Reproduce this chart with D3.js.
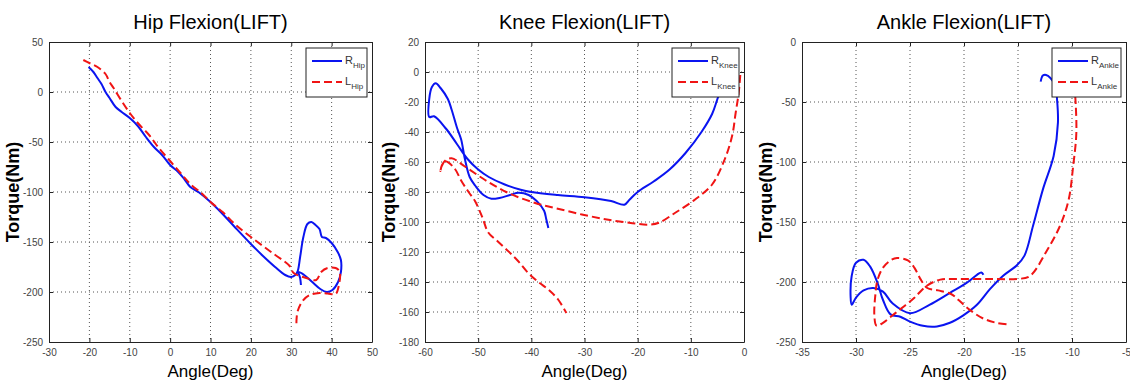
<!DOCTYPE html>
<meta charset="utf-8">
<script src="https://d3js.org/d3.v7.min.js"></script>
<style>
  body { margin: 0; background: #fff; }
  text { font-family: "Liberation Sans", Arial, sans-serif; }
</style>
<body>
<script>

// ---- data (angle in deg, torque in Nm) ----
var titles = ["Hip Flexion(LIFT)", "Knee Flexion(LIFT)", "Ankle Flexion(LIFT)"]
var joints = ["Hip", "Knee", "Ankle"]

var hipX = [-30, -20, -10, 0, 10, 20, 30, 40, 50]
var hipY = [50, 0, -50, -100, -150, -200, -250]
var kneeX = [-60, -50, -40, -30, -20, -10, 0]
var kneeY = [20, 0, -20, -40, -60, -80, -100, -120, -140, -160, -180]
var ankleX = [-35, -30, -25, -20, -15, -10, -5]
var ankleY = [0, -50, -100, -150, -200, -250]

var hipR = [[-20.2, 25], [-19, 20], [-18, 14], [-17, 8], [-16, 0], [-15, -6], [-13.5, -15], [-12, -20],
  [-10, -26], [-8, -34], [-6, -45], [-4, -55], [-2, -63], [0, -73], [2, -80], [3.5, -87], [5, -95],
  [7, -100], [10, -110], [13, -122], [16, -135], [20, -152], [23, -164], [26, -175], [28.5, -183],
  [30, -185], [31, -183], [31.6, -179], [32.2, -165], [33, -145], [34, -132], [35, -130], [36, -133],
  [37, -137], [37.6, -145], [38.6, -146], [40, -151], [41.5, -160], [42.3, -168], [42.3, -180],
  [41.6, -190], [40.2, -198], [38.8, -200], [37.2, -197], [35.2, -190], [33.2, -183], [31.8, -180],
  [32.2, -186], [32.4, -193]]
var hipL = [[-21.5, 32], [-20, 29], [-18, 25], [-16, 18], [-15, 10], [-14, 4], [-12, -9], [-10, -21],
  [-8, -31], [-5, -44], [-3, -55], [0, -69], [3, -83], [5, -92], [8, -102], [10, -110], [13, -120],
  [16, -132], [20, -145], [25, -160], [29.6, -174], [30.6, -181], [33.7, -186], [36.2, -188],
  [37.4, -180], [39, -176], [41, -176], [42, -180], [41.7, -195], [41, -202], [39, -201.5],
  [37, -201], [34.6, -203], [32.8, -209], [31.6, -219], [31.3, -228], [31.3, -234]]

var kneeR = [[-2.5, 5], [-4, -8], [-5, -18], [-6, -28], [-8, -40], [-11, -54], [-14, -65],
  [-17, -73], [-20, -80], [-21.5, -85], [-22.5, -88.5], [-25, -86], [-30, -83.5], [-35, -82],
  [-40, -80], [-42, -78.5], [-45, -75], [-48, -70], [-50, -65], [-52, -58], [-54, -48],
  [-56, -38], [-58.3, -29.5], [-59.2, -30], [-59.2, -18], [-58.7, -10], [-58, -7.5], [-57, -11],
  [-55.7, -18], [-55, -25], [-54, -37], [-53.2, -45], [-52.5, -58], [-51.6, -70], [-50.5, -76],
  [-49, -82], [-47.5, -84.5], [-46, -84], [-44, -82], [-42.4, -80.5], [-40.5, -82], [-39, -86],
  [-37.6, -92.5], [-37.2, -98], [-36.8, -104]]
var kneeL = [[-0.7, -2], [-1, -14], [-1.6, -28], [-2.2, -42], [-3.6, -58], [-6, -75], [-9.2, -85],
  [-13, -94], [-16, -100.5], [-18, -101.8], [-21, -100.8], [-25.5, -98.5], [-30.5, -95],
  [-35.5, -90.7], [-39.3, -87.3], [-44.3, -80.7], [-48.7, -72], [-52.5, -63], [-55, -57.5],
  [-56.2, -59], [-56.9, -63], [-57.1, -66], [-56.8, -62], [-56.2, -59.5], [-54.5, -64],
  [-53.1, -73], [-51.8, -80], [-50.6, -86], [-49.2, -97], [-48.1, -107], [-46.3, -113],
  [-44.3, -119.6], [-42.5, -126], [-40.6, -134], [-38.7, -140], [-36.8, -145], [-35, -151.5],
  [-33.4, -160.7]]

var ankleR = [[-12.9, -33], [-12.7, -28], [-12.4, -27.5], [-12, -30], [-11.5, -37], [-11.4, -46],
  [-11.3, -67], [-11.7, -95], [-12.7, -123], [-13.6, -153], [-14.4, -178], [-15.1, -186],
  [-16.4, -195], [-17.6, -206], [-18.8, -219], [-20.1, -228], [-21.3, -234], [-22.5, -237],
  [-23.8, -236.5], [-25, -233], [-25.9, -229], [-26.8, -227], [-27.5, -215], [-28, -201],
  [-28.7, -187], [-29.3, -181.5], [-30, -184], [-30.4, -195], [-30.5, -212], [-30.4, -219],
  [-30, -213], [-29.3, -207], [-28.4, -205], [-27.5, -208], [-26.6, -218], [-25, -226],
  [-23.2, -219], [-21.3, -209], [-19.8, -201], [-18.8, -194], [-18.4, -192], [-18.2, -194]]
var ankleL = [[-9.8, -35], [-9.7, -45], [-9.6, -76], [-9.9, -104], [-10.3, -131], [-11.1, -153],
  [-12.4, -175], [-13.9, -195], [-15.1, -197.5], [-17.6, -197.5], [-20.7, -197.5], [-22.2, -198],
  [-23.5, -203.5], [-24.7, -214], [-26.3, -225.5], [-27.5, -234], [-28.1, -236.4], [-28.3, -228],
  [-28.2, -210], [-28, -198], [-27.5, -188], [-26.8, -182], [-26.2, -180], [-25.2, -182],
  [-24.6, -188], [-24, -198], [-23.4, -205], [-22.4, -207], [-21.2, -210], [-20.5, -215],
  [-19.5, -223], [-18.2, -230.5], [-17, -234], [-15.8, -235.5]]

// ---- layout ----
var W = 1130, H = 386
var frames = [
  {x0: 49, x1: 372, legendW: 61},
  {x0: 425, x1: 744, legendW: 67},
  {x0: 802, x1: 1126, legendW: 69}
]
var plotTop = 42, plotBottom = 342

var panels = [
  {xt: hipX, yt: hipY, R: hipR, L: hipL},
  {xt: kneeX, yt: kneeY, R: kneeR, L: kneeL},
  {xt: ankleX, yt: ankleY, R: ankleR, L: ankleL}
]

var svg = d3.select("body").append("svg")
  .attr("width", W).attr("height", H)

var fmt = function(d) { return String(d) }

panels.forEach(function(p, i) {
  var f = frames[i]
  var x = d3.scaleLinear().domain(d3.extent(p.xt)).range([f.x0, f.x1])
  var y = d3.scaleLinear().domain(d3.extent(p.yt)).range([plotBottom, plotTop])
  var g = svg.append("g")
  var clipId = "clip" + i

  g.append("clipPath").attr("id", clipId).append("rect")
    .attr("x", f.x0).attr("y", plotTop).attr("width", f.x1 - f.x0).attr("height", plotBottom - plotTop)

  // grid
  g.selectAll(".vg").data(p.xt.slice(1, -1)).enter().append("line")
    .attr("x1", d => x(d)).attr("x2", d => x(d)).attr("y1", plotTop).attr("y2", plotBottom)
    .attr("stroke", "#555").attr("stroke-width", 1).attr("stroke-dasharray", "1,3")
  g.selectAll(".hg").data(p.yt.slice(1, -1)).enter().append("line")
    .attr("y1", d => y(d)).attr("y2", d => y(d)).attr("x1", f.x0).attr("x2", f.x1)
    .attr("stroke", "#555").attr("stroke-width", 1).attr("stroke-dasharray", "1,3")

  // axes with inward ticks on all four sides
  var tk = 4
  g.append("g").attr("transform", "translate(0," + plotBottom + ")")
    .call(d3.axisBottom(x).tickValues(p.xt).tickSizeInner(-tk).tickSizeOuter(0).tickPadding(7).tickFormat(fmt))
  g.append("g").attr("transform", "translate(0," + plotTop + ")")
    .call(d3.axisTop(x).tickValues(p.xt).tickSizeInner(-tk).tickSizeOuter(0).tickFormat(""))
  g.append("g").attr("transform", "translate(" + f.x0 + ",0)")
    .call(d3.axisLeft(y).tickValues(p.yt).tickSizeInner(-tk).tickSizeOuter(0).tickPadding(6).tickFormat(fmt))
  g.append("g").attr("transform", "translate(" + f.x1 + ",0)")
    .call(d3.axisRight(y).tickValues(p.yt).tickSizeInner(-tk).tickSizeOuter(0).tickFormat(""))
  g.selectAll(".domain").attr("stroke", "#222")
  g.selectAll(".tick line").attr("stroke", "#222")
  g.selectAll(".tick text").attr("font-size", 10).attr("fill", "#444")
    .attr("font-family", "'Liberation Sans', Arial, sans-serif")

  // curves
  var line = d3.line().x(d => x(d[0])).y(d => y(d[1])).curve(d3.curveCatmullRom.alpha(0.5))
  var plot = g.append("g").attr("clip-path", "url(#" + clipId + ")")
  plot.append("path").attr("d", line(p.R)).attr("fill", "none")
    .attr("stroke", "#0a14f0").attr("stroke-width", 2)
  plot.append("path").attr("d", line(p.L)).attr("fill", "none")
    .attr("stroke", "#f01414").attr("stroke-width", 2).attr("stroke-dasharray", "8,4")

  // titles and labels
  var cx = (f.x0 + f.x1) / 2
  g.append("text").attr("x", cx).attr("y", 29).attr("text-anchor", "middle")
    .attr("font-size", 20).text(titles[i])
  g.append("text").attr("x", cx).attr("y", 377).attr("text-anchor", "middle")
    .attr("font-size", 17).text("Angle(Deg)")
  g.append("text").attr("transform", "translate(" + (f.x0 - 30) + "," + ((plotTop + plotBottom) / 2) + ") rotate(-90)")
    .attr("text-anchor", "middle").attr("font-size", 18).attr("font-weight", "bold").text("Torque(Nm)")

  // legend
  var lx = f.x1 - 5 - f.legendW, ly = plotTop + 6
  var lg = g.append("g").attr("transform", "translate(" + lx + "," + ly + ")")
  lg.append("rect").attr("width", f.legendW).attr("height", 49)
    .attr("fill", "#fff").attr("stroke", "#222").attr("stroke-width", 1)
  var items = [["R", "#0a14f0", null], ["L", "#f01414", "8,4"]]
  items.forEach(function(it, k) {
    var yy = 13 + k * 21
    lg.append("line").attr("x1", 6).attr("x2", 36).attr("y1", yy).attr("y2", yy)
      .attr("stroke", it[1]).attr("stroke-width", 2).attr("stroke-dasharray", it[2])
    var t = lg.append("text").attr("x", 39).attr("y", yy + 3).attr("font-size", 11).attr("fill", "#333")
    t.append("tspan").text(it[0])
    t.append("tspan").attr("dy", 4).attr("font-size", 8).text(joints[i])
  })
})

</script>
</body>
